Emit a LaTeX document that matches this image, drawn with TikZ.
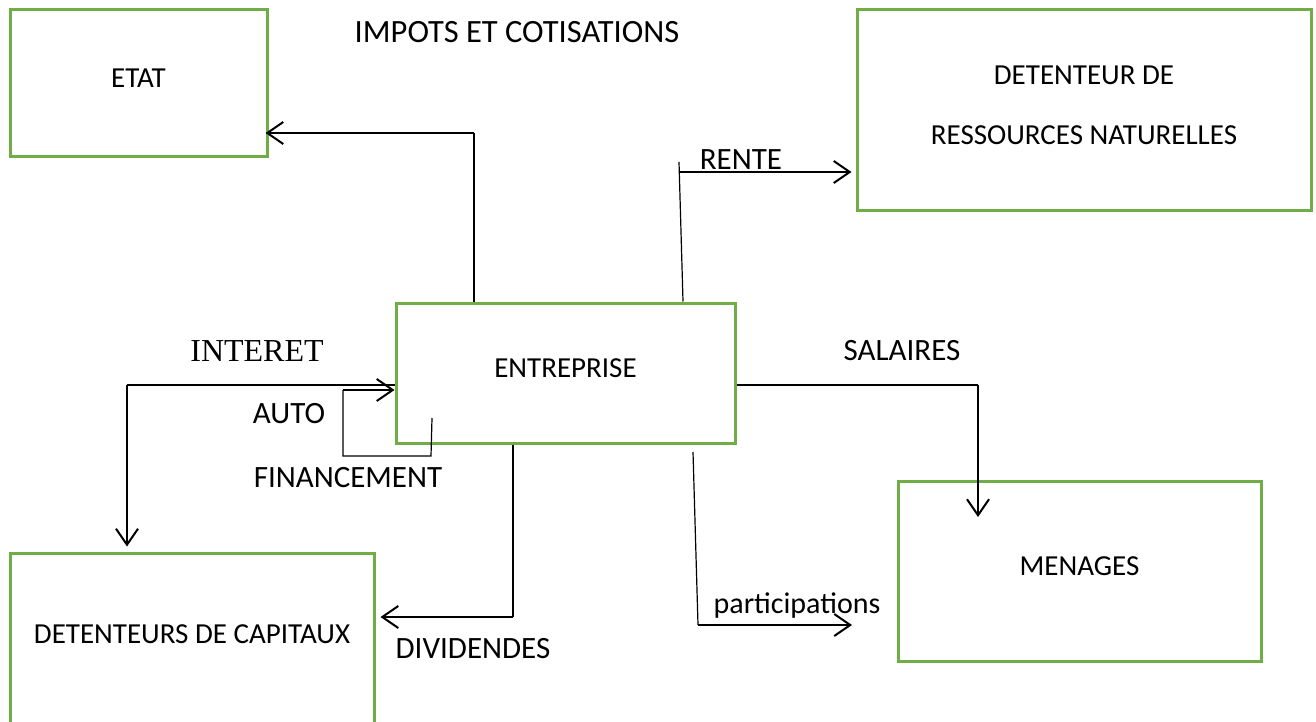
\documentclass[tikz,border=0pt]{standalone}
\usepackage{fontspec}
\setmainfont{Carlito}
\newfontfamily\timesfont{Liberation Serif}
\usetikzlibrary{arrows.meta}
\definecolor{boxgreen}{RGB}{112,173,71}
\begin{document}
\begin{tikzpicture}[x=1pt,y=-1pt,
  box/.style={draw=boxgreen,line width=3pt,inner sep=0pt,text depth=10pt,
    font=\fontsize{29}{35}\selectfont,align=center},
  lbl/.style={anchor=base,inner sep=0pt,font=\fontsize{31}{37}\selectfont},
  thinln/.style={line width=1.2pt},
  arrln/.style={line width=2.5pt,-{Straight Barb[length=16pt,width=22pt,line width=2pt]}}]
\useasboundingbox (0,0) rectangle (1316,722);

% boxes
\node[box,minimum width=257pt,minimum height=147pt] (etat) at (138.5,83.5) {ETAT};
\node[box,minimum width=454pt,minimum height=200pt] (det) at (1084,110)
  {DETENTEUR DE\\[25pt]RESSOURCES NATURELLES};
\node[box,minimum width=339pt,minimum height=140pt] (ent) at (565.5,373) {ENTREPRISE};
\node[box,minimum width=363pt,minimum height=180pt] (men) at (1079.5,571) {MENAGES};
\node[box,minimum width=364pt,minimum height=172pt] (cap) at (192,639) {DETENTEURS DE CAPITAUX};

% labels
\node[lbl,font=\fontsize{32.5}{38}\selectfont] (limp) at (517,43) {IMPOTS ET COTISATIONS};
\node[lbl] (lrente) at (741,170) {RENTE};
\node[lbl,font=\fontsize{32}{38}\timesfont] (lint) at (257,361) {INTERET};
\node[lbl] (lsal) at (902,360) {SALAIRES};
\node[lbl] (lauto) at (289,423) {AUTO};
\node[lbl] (lfin) at (348,487) {FINANCEMENT};
\node[lbl] (ldiv) at (473,658) {DIVIDENDES};
\node[lbl,font=\fontsize{30}{36}\selectfont] (lpart) at (797,613) {participations};

% coordinates for bends and free ends
\coordinate (c1) at (474,133);
\coordinate (r1) at (679,162);
\coordinate (r2) at (679,172);
\coordinate (i1) at (127,385);
\coordinate (a0) at (432,418);
\coordinate (a1) at (431,456);
\coordinate (a2) at (343,456);
\coordinate (a3) at (343,390);
\coordinate (d1) at (513,617);
\coordinate (s1) at (978,385);
\coordinate (s2) at (978,517);
\coordinate (p0) at (693,452);
\coordinate (p1) at (698,625);
\coordinate (p2) at (852,625);

% impots
\draw[thinln] (474,0 |- ent.north) -- (c1);
\draw[arrln,shorten >=-3pt] (c1) -- (etat.east |- c1);
% rente
\draw[thinln] (683,0 |- ent.north) -- (r1);
\draw[arrln,shorten >=4pt] (r2) -- (det.west |- r2);
% interet
\draw[thinln] (ent.west |- i1) -- (i1);
\draw[arrln,shorten >=5pt] (i1) -- (i1 |- cap.north);
% auto financement
\draw[thinln] (a0) -- (a1) -- (a2) -- (a3);
\draw[arrln] (a3) -- (ent.west |- a3);
% dividendes
\draw[thinln] (d1 |- ent.south) -- (d1);
\draw[arrln,shorten >=5pt] (d1) -- (cap.east |- d1);
% salaires
\draw[thinln] (ent.east |- s1) -- (s1);
\draw[arrln] (s1) -- (s2);
% participations
\draw[thinln] (p0) -- (p1);
\draw[arrln] (p1) -- (p2);
\end{tikzpicture}
\end{document}
